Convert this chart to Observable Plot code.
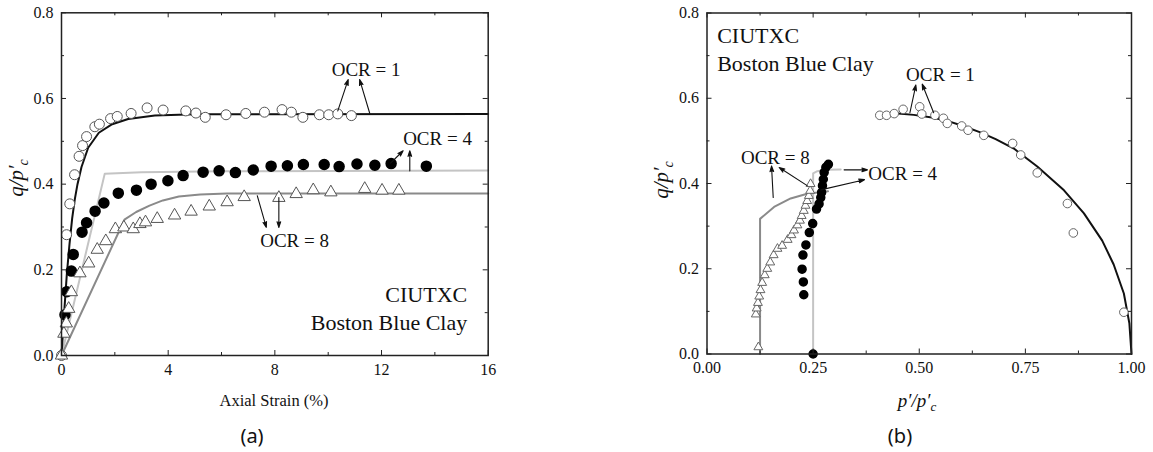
<!DOCTYPE html>
<html>
<head>
<meta charset="utf-8">
<script src="https://cdn.jsdelivr.net/npm/d3@7"></script>
<script src="https://cdn.jsdelivr.net/npm/@observablehq/plot@0.6"></script>
<style>
  html, body { margin: 0; padding: 0; background: #fff; }
  #wrap { position: relative; width: 1153px; height: 452px; overflow: hidden; }
  #wrap > svg { position: absolute; top: 0; }
</style>
</head>
<body>
<div id="wrap"></div>
<script>
// ---------- Panel (a): q/p'c vs axial strain (%) ----------
const ocr1DataA = [[0,0],[0.19,0.282],[0.31,0.354],[0.49,0.422],[0.66,0.465],[0.79,0.490],[0.94,0.511],[1.25,0.534],[1.42,0.540],[1.84,0.553],[2.09,0.558],[2.61,0.565],[3.21,0.578],[3.81,0.573],[4.66,0.571],[5.04,0.566],[5.39,0.556],[6.17,0.562],[6.91,0.565],[7.61,0.568],[8.27,0.574],[8.62,0.568],[9.05,0.556],[9.67,0.562],[10.02,0.562],[10.36,0.564],[10.87,0.560]];
const ocr4DataA = [[0.13,0.095],[0.2,0.149],[0.37,0.197],[0.44,0.236],[0.77,0.288],[0.94,0.310],[1.26,0.337],[1.59,0.356],[2.13,0.379],[2.81,0.386],[3.36,0.400],[3.99,0.408],[4.56,0.420],[5.31,0.428],[5.91,0.431],[6.52,0.427],[7.19,0.433],[7.86,0.442],[8.47,0.443],[9.07,0.446],[9.85,0.446],[10.41,0.441],[11.08,0.447],[11.75,0.444],[12.36,0.448],[13.68,0.442]];
const ocr8DataA = [[0,0],[0.09,0.051],[0.18,0.075],[0.27,0.109],[0.37,0.148],[0.69,0.192],[1.02,0.215],[1.34,0.247],[1.66,0.267],[2.02,0.295],[2.34,0.299],[2.69,0.295],[2.94,0.307],[3.15,0.311],[3.59,0.319],[4.24,0.327],[4.86,0.336],[5.54,0.348],[6.21,0.358],[6.85,0.370],[8.15,0.368],[8.8,0.377],[9.44,0.386],[10.1,0.381],[11.37,0.389],[12.02,0.385],[12.65,0.385]];
const ocr1ModelA = [[0,0],[0.1,0.10],[0.2,0.19],[0.3,0.26],[0.4,0.32],[0.5,0.365],[0.6,0.40],[0.75,0.44],[1.0,0.485],[1.4,0.52],[1.9,0.54],[2.5,0.552],[3.5,0.560],[5,0.563],[16,0.564]];
const ocr4ModelA = [[0,0],[1.62,0.424],[3,0.428],[6,0.430],[16,0.432]];
const ocr8ModelA = [[0,0],[2.36,0.317],[2.8,0.335],[3.3,0.35],[3.8,0.362],[4.4,0.371],[5.2,0.376],[6.2,0.378],[16,0.378]];
const xTicksA = [0,4,8,12,16];
const xMinorA = [2,6,10,14];
const yTicks = [0,0.2,0.4,0.6,0.8];
const yMinor = [0.1,0.3,0.5,0.7];
const labelsA = [{x:11.42,y:0.666,text:"OCR = 1"},{x:14.10,y:0.505,text:"OCR = 4"},{x:8.74,y:0.268,text:"OCR = 8"}];
const arrowsA = [[10.36,0.571,10.75,0.644],[11.56,0.565,11.18,0.644],[12.34,0.449,12.81,0.478],[13.06,0.431,13.06,0.478],[7.34,0.373,7.68,0.299],[8.15,0.369,8.15,0.299]];

// ---------- Panel (b): q/p'c vs p'/p'c ----------
const ocr1DataB = [[0.407,0.560],[0.423,0.560],[0.441,0.564],[0.462,0.574],[0.501,0.580],[0.506,0.563],[0.537,0.560],[0.557,0.553],[0.566,0.541],[0.600,0.535],[0.615,0.525],[0.652,0.513],[0.720,0.494],[0.739,0.467],[0.778,0.425],[0.849,0.353],[0.863,0.284],[0.982,0.098]];
const ocr4DataB = [[0.25,0],[0.228,0.139],[0.227,0.169],[0.224,0.199],[0.226,0.232],[0.233,0.256],[0.241,0.285],[0.249,0.306],[0.258,0.340],[0.264,0.352],[0.268,0.367],[0.270,0.379],[0.272,0.395],[0.274,0.410],[0.276,0.426],[0.280,0.438],[0.286,0.445]];
const ocr8DataB = [[0.121,0.016],[0.115,0.093],[0.117,0.107],[0.120,0.120],[0.123,0.135],[0.126,0.150],[0.130,0.167],[0.136,0.185],[0.142,0.200],[0.149,0.215],[0.157,0.232],[0.166,0.247],[0.177,0.254],[0.190,0.268],[0.199,0.279],[0.205,0.290],[0.213,0.302],[0.219,0.313],[0.223,0.324],[0.228,0.336],[0.232,0.348],[0.236,0.359],[0.240,0.371],[0.243,0.383],[0.244,0.399]];
const ocr1ModelB = [[0.409,0.564],[0.45,0.564],[0.487,0.561],[0.53,0.555],[0.566,0.547],[0.60,0.536],[0.644,0.520],[0.68,0.504],[0.723,0.482],[0.778,0.440],[0.841,0.384],[0.888,0.330],[0.931,0.266],[0.958,0.210],[0.982,0.142],[0.995,0.072],[1.0,0]];
const ocr4ModelB = [[0.25,0],[0.25,0.424],[0.26,0.429],[0.28,0.432],[0.315,0.433]];
const ocr8ModelB = [[0.125,0],[0.125,0.317],[0.158,0.345],[0.197,0.365],[0.236,0.376],[0.285,0.382]];
const xTicksB = [0,0.25,0.5,0.75,1];
const xMinorB = [0.125,0.375,0.625,0.875];
const labelsBMid = [{x:0.55,y:0.655,text:"OCR = 1"},{x:0.161,y:0.461,text:"OCR = 8"}];
const labelsBStart = [{x:0.380,y:0.422,text:"OCR = 4"}];
const arrowsB = [[0.478,0.566,0.492,0.631],[0.534,0.566,0.507,0.633],[0.323,0.432,0.378,0.432],[0.268,0.385,0.371,0.409],[0.156,0.367,0.152,0.441],[0.236,0.395,0.170,0.4375]];

const SERIF = "Liberation Serif";
const SANS = "Noto Sans";
const FRAME = "#222";

function tickMarks(xMaj, xMin, yMaj, yMin, fw, fh) {
  const big = 5, small = 3;
  return [
    Plot.tickX(xMaj, {x: d => d, insetTop: fh - big, stroke: FRAME}),
    Plot.tickX(xMaj, {x: d => d, insetBottom: fh - big, stroke: FRAME}),
    Plot.tickX(xMin, {x: d => d, insetTop: fh - small, stroke: FRAME}),
    Plot.tickX(xMin, {x: d => d, insetBottom: fh - small, stroke: FRAME}),
    Plot.tickY(yMaj, {y: d => d, insetRight: fw - big, stroke: FRAME}),
    Plot.tickY(yMaj, {y: d => d, insetLeft: fw - big, stroke: FRAME}),
    Plot.tickY(yMin, {y: d => d, insetRight: fw - small, stroke: FRAME}),
    Plot.tickY(yMin, {y: d => d, insetLeft: fw - small, stroke: FRAME})
  ];
}
const arrowOpts = {x1: d => d[0], y1: d => d[1], x2: d => d[2], y2: d => d[3], stroke: "#111", fill: "#111", strokeWidth: 1.1, headLength: 8, headAngle: 36};
const txt = {fontFamily: SERIF, fill: "#111"};

const X = d => d[0], Y = d => d[1];
const H = 452;

// Panel A
const WA = 560, mA = {l: 61, r: 72.3, t: 12.3, b: 97};
const fwA = WA - mA.l - mA.r, fhA = H - mA.t - mA.b;
const plotA = Plot.plot({
  width: WA, height: H,
  marginLeft: mA.l, marginRight: mA.r, marginTop: mA.t, marginBottom: mA.b,
  style: {fontFamily: SERIF, fontSize: "16px", color: "#111", background: "transparent"},
  x: {domain: [0, 16]},
  y: {domain: [0, 0.8]},
  marks: [
    Plot.line(ocr4ModelA, {x: X, y: Y, stroke: "#c4c4c4", strokeWidth: 2}),
    Plot.line(ocr8ModelA, {x: X, y: Y, stroke: "#8a8a8a", strokeWidth: 2}),
    Plot.line(ocr1ModelA, {x: X, y: Y, stroke: "#111", strokeWidth: 2}),
    Plot.dot(ocr1DataA, {x: X, y: Y, r: 5, symbol: "circle", fill: "white", stroke: "#555", strokeWidth: 1}),
    Plot.dot(ocr4DataA, {x: X, y: Y, r: 5, symbol: "circle", fill: "black", stroke: "black"}),
    Plot.dot(ocr8DataA, {x: X, y: Y, r: 4.6, symbol: "triangle", fill: "white", stroke: "#555", strokeWidth: 1}),
    ...tickMarks(xTicksA, xMinorA, yTicks, yMinor, fwA, fhA),
    Plot.frame({stroke: FRAME, strokeWidth: 1.5}),
    Plot.axisX({ticks: xTicksA, tickSize: 0, tickPadding: 8, tickFormat: d => String(d), label: null, fontSize: 16, fontFamily: SERIF, fill: "#111"}),
    Plot.axisY({ticks: yTicks, tickSize: 0, tickPadding: 8, tickFormat: d => d.toFixed(1), label: null, fontSize: 16, fontFamily: SERIF, fill: "#111"}),
    Plot.arrow(arrowsA, arrowOpts),
    Plot.text(labelsA, {x: "x", y: "y", text: "text", fontSize: 19, ...txt}),
    Plot.text(["CIUTXC"], {frameAnchor: "bottom-right", dx: -21, dy: -61, textAnchor: "end", lineAnchor: "middle", fontSize: 22, ...txt}),
    Plot.text(["Boston Blue Clay"], {frameAnchor: "bottom-right", dx: -21, dy: -32.3, textAnchor: "end", lineAnchor: "middle", fontSize: 22, ...txt})
  ]
});
plotA.style.left = "0px";

// Panel B
const OFFB = 576;
const WB = 577, mB = {l: 130.5, r: 22, t: 12.5, b: 98.5};
const fwB = WB - mB.l - mB.r, fhB = H - mB.t - mB.b;
const plotB = Plot.plot({
  width: WB, height: H,
  marginLeft: mB.l, marginRight: mB.r, marginTop: mB.t, marginBottom: mB.b,
  style: {fontFamily: SERIF, fontSize: "16px", color: "#111", background: "transparent"},
  x: {domain: [0, 1]},
  y: {domain: [0, 0.8]},
  marks: [
    Plot.line(ocr4ModelB, {x: X, y: Y, stroke: "#c4c4c4", strokeWidth: 2}),
    Plot.line(ocr8ModelB, {x: X, y: Y, stroke: "#8a8a8a", strokeWidth: 2}),
    Plot.line(ocr1ModelB, {x: X, y: Y, stroke: "#111", strokeWidth: 2}),
    Plot.dot(ocr1DataB, {x: X, y: Y, r: 4.3, symbol: "circle", fill: "white", stroke: "#666", strokeWidth: 1}),
    Plot.dot(ocr8DataB, {x: X, y: Y, r: 3.3, symbol: "triangle", fill: "white", stroke: "#666", strokeWidth: 1}),
    Plot.dot(ocr4DataB, {x: X, y: Y, r: 4, symbol: "circle", fill: "black", stroke: "black"}),
    ...tickMarks(xTicksB, xMinorB, yTicks, yMinor, fwB, fhB),
    Plot.frame({stroke: FRAME, strokeWidth: 1.5}),
    Plot.axisX({ticks: xTicksB, tickSize: 0, tickPadding: 8, tickFormat: d => d.toFixed(2), label: null, fontSize: 16, fontFamily: SERIF, fill: "#111"}),
    Plot.axisY({ticks: yTicks, tickSize: 0, tickPadding: 8, tickFormat: d => d.toFixed(1), label: null, fontSize: 16, fontFamily: SERIF, fill: "#111"}),
    Plot.arrow(arrowsB, arrowOpts),
    Plot.text(labelsBMid, {x: "x", y: "y", text: "text", textAnchor: "middle", fontSize: 19, ...txt}),
    Plot.text(labelsBStart, {x: "x", y: "y", text: "text", textAnchor: "start", fontSize: 19, ...txt}),
    Plot.text(["CIUTXC"], {frameAnchor: "top-left", dx: 10.2, dy: 22.5, textAnchor: "start", lineAnchor: "middle", fontSize: 22, ...txt}),
    Plot.text(["Boston Blue Clay"], {frameAnchor: "top-left", dx: 10.2, dy: 50.8, textAnchor: "start", lineAnchor: "middle", fontSize: 22, ...txt})
  ]
});
plotB.style.left = OFFB + "px";

const wrap = document.getElementById("wrap");
wrap.appendChild(plotA);
wrap.appendChild(plotB);

// Axis titles and panel captions
function yTitle(svg, cx, cy) {
  const t = d3.select(svg).append("text")
    .attr("transform", `translate(${cx},${cy}) rotate(-90)`)
    .attr("text-anchor", "middle")
    .attr("font-family", SERIF).attr("font-style", "italic").attr("font-size", 21).attr("fill", "#111");
  t.append("tspan").text("q/p′");
  t.append("tspan").attr("dy", 5).attr("font-size", 14).text("c");
}
function plain(svg, x, y, s, font, size) {
  d3.select(svg).append("text").attr("x", x).attr("y", y)
    .attr("text-anchor", "middle").attr("dominant-baseline", "central")
    .attr("font-family", font).attr("font-size", size).attr("fill", "#111").text(s);
}
yTitle(plotA, 23, 178);
plain(plotA, 274, 400, "Axial Strain (%)", SERIF, 16.5);
plain(plotA, 252, 435, "(a)", SANS, 20);

yTitle(plotB, 668 - OFFB, 180);
const xt = d3.select(plotB).append("text")
  .attr("x", 917 - OFFB).attr("y", 407).attr("text-anchor", "middle")
  .attr("font-family", SERIF).attr("font-style", "italic").attr("font-size", 19).attr("fill", "#111");
xt.append("tspan").text("p′/p′");
xt.append("tspan").attr("dy", 4).attr("font-size", 13).text("c");
plain(plotB, 900 - OFFB, 435, "(b)", SANS, 20);
</script>
</body>
</html>
